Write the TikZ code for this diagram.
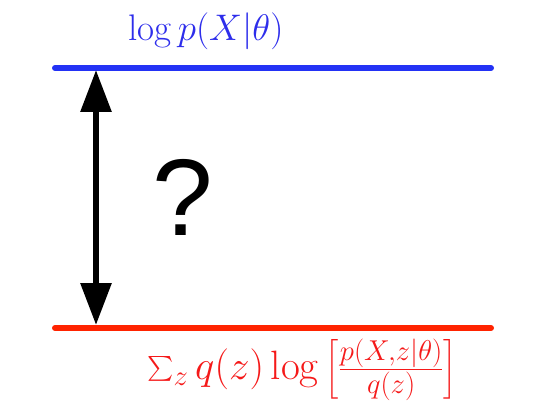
\RequirePackage{fix-cm}
\documentclass[tikz,border=0pt]{standalone}
\usepackage{exscale}
\usepackage{fontspec}
\usetikzlibrary{arrows.meta}
\newfontfamily\qfont{Liberation Sans}
\definecolor{lineblue}{RGB}{35,50,245}
\definecolor{linered}{RGB}{255,35,0}
\definecolor{textblue}{RGB}{45,45,235}
\definecolor{textred}{RGB}{245,25,25}
\tikzset{
  bound/.style={line width=6pt, line cap=round},
  gap/.style={line width=6pt, {Triangle[width=30pt,length=42pt]}-{Triangle[width=30pt,length=42pt]}},
  lbl/.style={inner sep=0pt}
}
\begin{document}
\begin{tikzpicture}[x=1pt,y=-1pt]
\useasboundingbox (0,0) rectangle (548,406);
\coordinate (b1) at (55,68);
\coordinate (b2) at (491,68);
\coordinate (r1) at (55,328);
\coordinate (r2) at (491,328);
\coordinate (at) at (96,70);
\coordinate (ab) at (96,325);
\draw[bound, lineblue] (b1) -- (b2);
\draw[bound, linered] (r1) -- (r2);
\draw[gap] (ab) -- (at);
\node[lbl, text=textblue, font=\fontsize{37}{44}\selectfont] (top) at (206,31) {$\log p(X|\theta)$};
\node[lbl, text=textred, font=\fontsize{41}{48}\selectfont] (bot) at (302,370) {$\sum_z q(z)\log\left[\frac{p(X,z|\theta)}{q(z)}\right]$};
\node[lbl, anchor=base, font=\qfont\fontsize{109}{120}\selectfont] (q) at (183,235) {?};
\end{tikzpicture}
\end{document}
